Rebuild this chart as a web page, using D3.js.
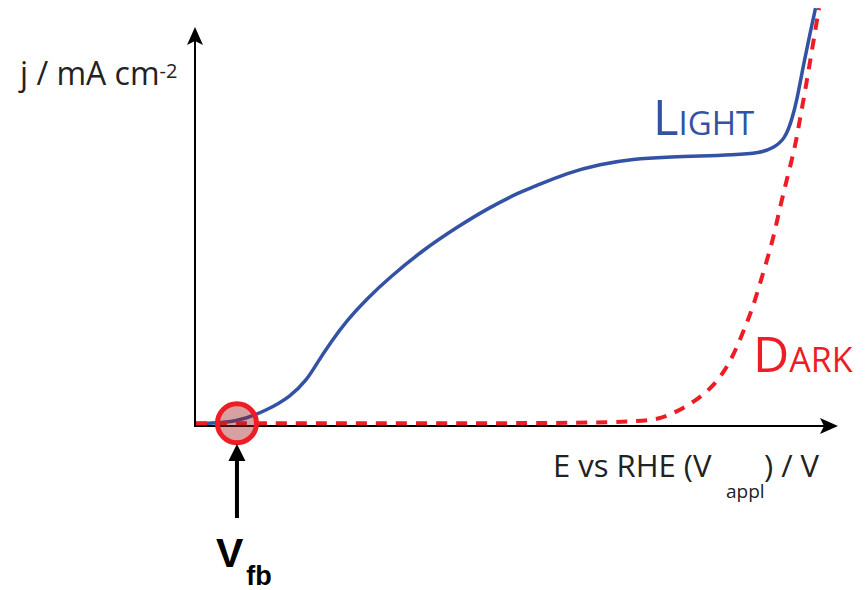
<!DOCTYPE html>
<html>
<head>
<meta charset="utf-8">
<script src="https://cdn.jsdelivr.net/npm/d3@7"></script>
<style>
  html, body { margin: 0; padding: 0; background: #fff; }
  svg { display: block; }
</style>
</head>
<body>
<svg id="chart" width="867" height="590"></svg>
<script>
// Photocurrent under illumination (E vs RHE in V, j in mA cm^-2)
const lightE = [0.000, 0.128, 0.222, 0.294, 0.347, 0.378, 0.419, 0.472, 0.534, 0.606, 0.709, 0.816, 0.919, 1.013, 1.053, 1.159, 1.263, 1.366, 1.472, 1.575, 1.678, 1.763, 1.803, 1.840, 1.862, 1.878, 1.897, 1.919, 1.936];
const lightJ = [0.06, 0.08, 0.40, 0.73, 1.16, 1.58, 2.08, 2.66, 3.20, 3.74, 4.42, 5.00, 5.50, 5.88, 6.00, 6.36, 6.58, 6.71, 6.76, 6.78, 6.81, 6.86, 6.98, 7.20, 7.69, 8.19, 9.02, 9.87, 10.50];

// Dark current
const darkE = [0.000, 0.700, 1.397, 1.472, 1.553, 1.616, 1.669, 1.709, 1.741, 1.772, 1.803, 1.825, 1.850, 1.872, 1.888, 1.903, 1.925, 1.947];
const darkJ = [0.07, 0.07, 0.07, 0.23, 0.58, 0.98, 1.58, 2.34, 2.99, 3.84, 4.67, 5.50, 6.31, 7.01, 7.74, 8.39, 9.45, 10.50];

// Flat-band potential marker
const flatBandE = 0.128;
const flatBandJ = 0.07;

const xDomain = [0, 2];
const yDomain = [0, 10];

const BLUE = "#3352a3";
const RED = "#ee1c25";

const svg = d3.select("#chart");
const x = d3.scaleLinear().domain(xDomain).range([196, 836]);
const y = d3.scaleLinear().domain(yDomain).range([426, 28]);

// Axes with arrowheads
const axes = svg.append("g").attr("stroke", "#000").attr("fill", "#000");
axes.append("line")
  .attr("x1", x(0)).attr("y1", y(0))
  .attr("x2", x(xDomain[1]) - 10).attr("y2", y(0))
  .attr("stroke-width", 2);
axes.append("path")
  .attr("stroke", "none")
  .attr("d", `M${x(xDomain[1]) + 2},${y(0)} l-18,-8 l4,8 l-4,8 Z`);
axes.append("line")
  .attr("x1", x(0) - 1).attr("y1", y(0) + 1)
  .attr("x2", x(0) - 1).attr("y2", y(yDomain[1]) + 10)
  .attr("stroke-width", 2);
axes.append("path")
  .attr("stroke", "none")
  .attr("d", `M${x(0) - 1},${y(yDomain[1]) - 1} l-8,18 l8,-4 l8,4 Z`);

const line = d3.line()
  .x(d => x(d[0]))
  .y(d => y(d[1]))
  .curve(d3.curveBasis);

const darkData = darkE.map((e, i) => [e, darkJ[i]]);
const lightData = lightE.map((e, i) => [e, lightJ[i]]);

svg.append("path")
  .datum(lightData)
  .attr("d", line)
  .attr("fill", "none")
  .attr("stroke", BLUE)
  .attr("stroke-width", 3.5);

svg.append("path")
  .datum(darkData)
  .attr("d", line)
  .attr("fill", "none")
  .attr("stroke", RED)
  .attr("stroke-width", 4)
  .attr("stroke-dasharray", "11,9");

// Flat-band circle
svg.append("circle")
  .attr("cx", x(flatBandE))
  .attr("cy", y(flatBandJ))
  .attr("r", 19.5)
  .attr("fill", "rgba(160,30,30,0.42)")
  .attr("stroke", RED)
  .attr("stroke-width", 5);

// Pointer arrow to V_fb
svg.append("line")
  .attr("x1", x(flatBandE)).attr("y1", 518)
  .attr("x2", x(flatBandE)).attr("y2", 458)
  .attr("stroke", "#000").attr("stroke-width", 4);
svg.append("path")
  .attr("fill", "#000")
  .attr("d", `M${x(flatBandE)},444 l-8.5,17 l17,0 Z`);

const vfb = svg.append("text")
  .attr("x", x(flatBandE) - 21).attr("y", 567)
  .attr("font-family", "Liberation Sans, Arial, sans-serif")
  .attr("font-weight", "bold")
  .attr("font-size", 41)
  .attr("fill", "#000");
vfb.append("tspan").text("V");
vfb.append("tspan").attr("dx", 3).attr("dy", 18).attr("font-size", 27).text("fb");

// Axis titles
const FONT = "Open Sans, Noto Sans, sans-serif";
const yt = svg.append("text")
  .attr("x", 20).attr("y", 85)
  .attr("font-family", FONT).attr("font-size", 32).attr("fill", "#222");
yt.append("tspan").text("j / mA cm");
yt.append("tspan").attr("dy", -7).attr("font-size", 20).text("-2");

const xt = svg.append("text")
  .attr("x", 553).attr("y", 477)
  .attr("font-family", FONT).attr("font-size", 31).attr("fill", "#222");
xt.append("tspan").text("E vs RHE (V");
xt.append("tspan").attr("x", 726).attr("dy", 21).attr("font-size", 19).text("appl");
xt.append("tspan").attr("x", 764).attr("dy", -21).text(") / V");

// Series labels in small caps
const lt = svg.append("text")
  .attr("x", 653).attr("y", 135)
  .attr("font-family", FONT).attr("fill", BLUE);
lt.append("tspan").attr("font-size", 49).text("L");
lt.append("tspan").attr("font-size", 33).text("IGHT");

const dt = svg.append("text")
  .attr("x", 753).attr("y", 372)
  .attr("font-family", FONT).attr("fill", RED);
dt.append("tspan").attr("font-size", 50).text("D");
dt.append("tspan").attr("font-size", 34).text("ARK");
</script>
</body>
</html>
